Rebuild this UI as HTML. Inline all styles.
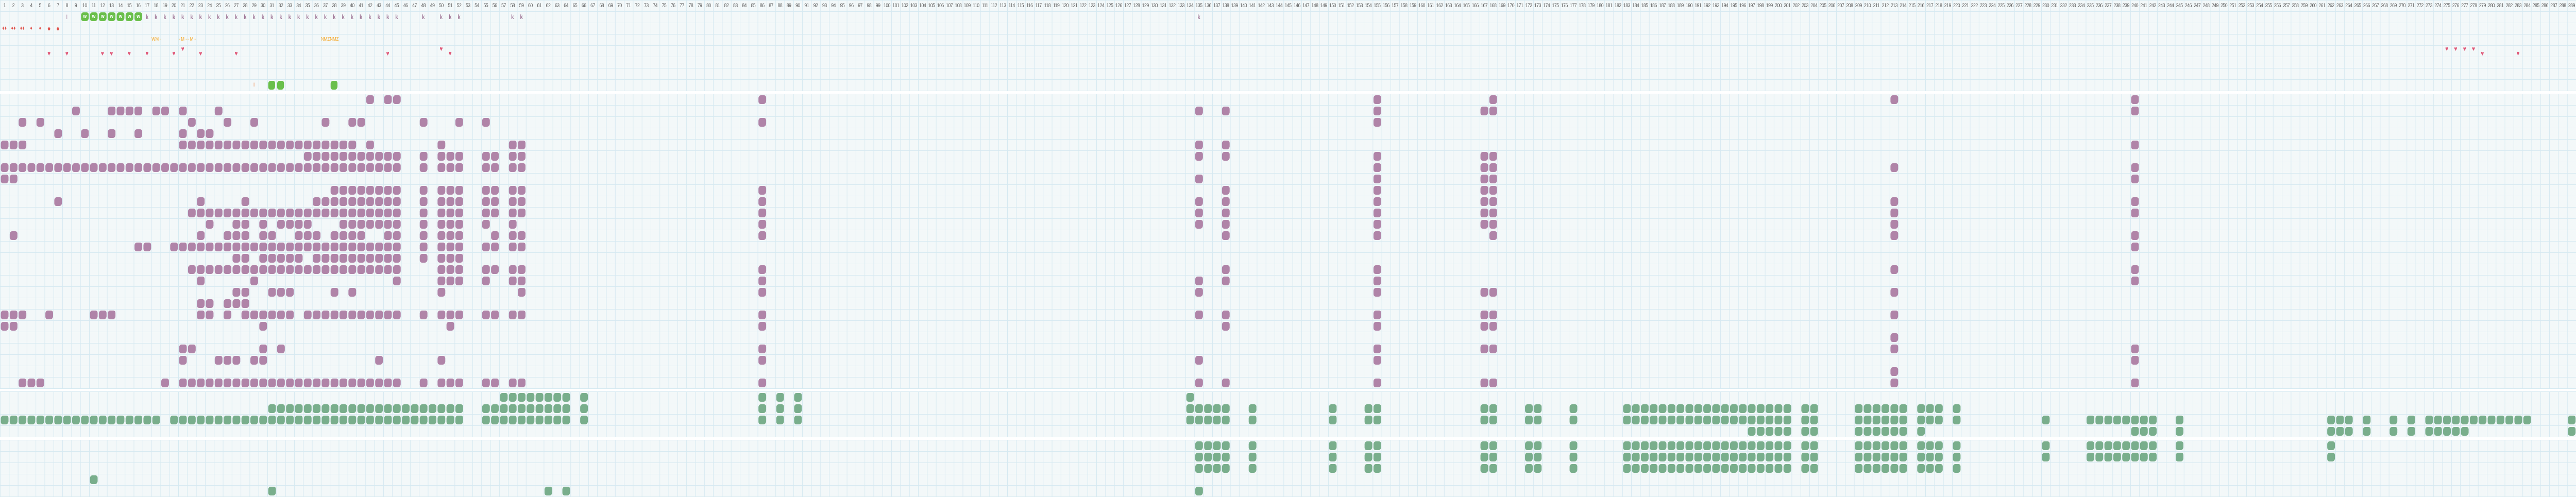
<!DOCTYPE html>
<html><head><meta charset="utf-8">
<style>
html{margin:0;padding:0;width:100%;height:100%;overflow:hidden;background:#fff;}
body{margin:0;padding:0;width:100%;height:100%;overflow:hidden;background:#fff;font-family:"Liberation Sans",sans-serif;}
#wrap{position:absolute;left:0;top:0;width:6358px;height:965px;overflow:hidden;transform-origin:0 0;}
.sec{position:absolute;left:0;width:6358px;background-color:#f3f8f9;
background-image:linear-gradient(to right,#d6e9f1 1px,transparent 1px),linear-gradient(to bottom,#d6e9f1 1px,transparent 1px);
background-size:22px 22px;border-bottom:1px solid #d6e9f1;box-sizing:border-box;}
#hdr{position:absolute;left:0;top:0;width:6358px;height:22px;overflow:hidden;white-space:nowrap;font-size:0;}
#hdr b{display:inline-block;width:22px;overflow:hidden;text-align:center;font-weight:normal;font-size:11px;line-height:22px;color:#555;letter-spacing:-0.6px;}
.b{position:absolute;width:19px;height:17px;border-radius:32% 26% 36% 28%;}
.p{background:#b084a8;}
.g{background:#79ae8c;}
.tg{background:#69bf4b;}
.t{position:absolute;text-align:center;width:22px;overflow:hidden;}
.k{color:#a07898;font-weight:bold;font-size:12px;line-height:22px;top:22px;}
.h{color:#e05a7a;font-size:13px;line-height:22px;}
.d{color:#e0554f;font-size:11px;line-height:22px;top:44px;}
.o{color:#f5a623;font-size:10px;line-height:22px;top:66px;white-space:nowrap;}
.w{color:#fff;font-weight:bold;font-size:11px;line-height:17px;text-align:center;}
</style></head><body><div id="wrap">
<div class="sec" style="top:0;height:177px"></div>
<div class="sec" style="top:182px;height:573px"></div>
<div class="sec" style="top:760px;height:89px"></div>
<div class="sec" style="top:854px;height:111px"></div>
<div id="hdr"><b>1</b><b>2</b><b>3</b><b>4</b><b>5</b><b>6</b><b>7</b><b>8</b><b>9</b><b>10</b><b>11</b><b>12</b><b>13</b><b>14</b><b>15</b><b>16</b><b>17</b><b>18</b><b>19</b><b>20</b><b>21</b><b>22</b><b>23</b><b>24</b><b>25</b><b>26</b><b>27</b><b>28</b><b>29</b><b>30</b><b>31</b><b>32</b><b>33</b><b>34</b><b>35</b><b>36</b><b>37</b><b>38</b><b>39</b><b>40</b><b>41</b><b>42</b><b>43</b><b>44</b><b>45</b><b>46</b><b>47</b><b>48</b><b>49</b><b>50</b><b>51</b><b>52</b><b>53</b><b>54</b><b>55</b><b>56</b><b>57</b><b>58</b><b>59</b><b>60</b><b>61</b><b>62</b><b>63</b><b>64</b><b>65</b><b>66</b><b>67</b><b>68</b><b>69</b><b>70</b><b>71</b><b>72</b><b>73</b><b>74</b><b>75</b><b>76</b><b>77</b><b>78</b><b>79</b><b>80</b><b>81</b><b>82</b><b>83</b><b>84</b><b>85</b><b>86</b><b>87</b><b>88</b><b>89</b><b>90</b><b>91</b><b>92</b><b>93</b><b>94</b><b>95</b><b>96</b><b>97</b><b>98</b><b>99</b><b>100</b><b>101</b><b>102</b><b>103</b><b>104</b><b>105</b><b>106</b><b>107</b><b>108</b><b>109</b><b>110</b><b>111</b><b>112</b><b>113</b><b>114</b><b>115</b><b>116</b><b>117</b><b>118</b><b>119</b><b>120</b><b>121</b><b>122</b><b>123</b><b>124</b><b>125</b><b>126</b><b>127</b><b>128</b><b>129</b><b>130</b><b>131</b><b>132</b><b>133</b><b>134</b><b>135</b><b>136</b><b>137</b><b>138</b><b>139</b><b>140</b><b>141</b><b>142</b><b>143</b><b>144</b><b>145</b><b>146</b><b>147</b><b>148</b><b>149</b><b>150</b><b>151</b><b>152</b><b>153</b><b>154</b><b>155</b><b>156</b><b>157</b><b>158</b><b>159</b><b>160</b><b>161</b><b>162</b><b>163</b><b>164</b><b>165</b><b>166</b><b>167</b><b>168</b><b>169</b><b>170</b><b>171</b><b>172</b><b>173</b><b>174</b><b>175</b><b>176</b><b>177</b><b>178</b><b>179</b><b>180</b><b>181</b><b>182</b><b>183</b><b>184</b><b>185</b><b>186</b><b>187</b><b>188</b><b>189</b><b>190</b><b>191</b><b>192</b><b>193</b><b>194</b><b>195</b><b>196</b><b>197</b><b>198</b><b>199</b><b>200</b><b>201</b><b>202</b><b>203</b><b>204</b><b>205</b><b>206</b><b>207</b><b>208</b><b>209</b><b>210</b><b>211</b><b>212</b><b>213</b><b>214</b><b>215</b><b>216</b><b>217</b><b>218</b><b>219</b><b>220</b><b>221</b><b>222</b><b>223</b><b>224</b><b>225</b><b>226</b><b>227</b><b>228</b><b>229</b><b>230</b><b>231</b><b>232</b><b>233</b><b>234</b><b>235</b><b>236</b><b>237</b><b>238</b><b>239</b><b>240</b><b>241</b><b>242</b><b>243</b><b>244</b><b>245</b><b>246</b><b>247</b><b>248</b><b>249</b><b>250</b><b>251</b><b>252</b><b>253</b><b>254</b><b>255</b><b>256</b><b>257</b><b>258</b><b>259</b><b>260</b><b>261</b><b>262</b><b>263</b><b>264</b><b>265</b><b>266</b><b>267</b><b>268</b><b>269</b><b>270</b><b>271</b><b>272</b><b>273</b><b>274</b><b>275</b><b>276</b><b>277</b><b>278</b><b>279</b><b>280</b><b>281</b><b>282</b><b>283</b><b>284</b><b>285</b><b>286</b><b>287</b><b>288</b><b>289</b></div>

<div class="t k" style="left:154px;font-weight:normal">l</div>
<div class="b tg w" style="left:200px;top:24px">w</div>
<div class="b tg w" style="left:222px;top:24px">w</div>
<div class="b tg w" style="left:244px;top:24px">w</div>
<div class="b tg w" style="left:266px;top:24px">w</div>
<div class="b tg w" style="left:288px;top:24px">w</div>
<div class="b tg w" style="left:310px;top:24px">w</div>
<div class="b tg w" style="left:332px;top:24px">w</div>
<div class="t k" style="left:352px">k</div><div class="t k" style="left:374px">k</div><div class="t k" style="left:396px">k</div><div class="t k" style="left:418px">k</div><div class="t k" style="left:440px">k</div><div class="t k" style="left:462px">k</div><div class="t k" style="left:484px">k</div><div class="t k" style="left:506px">k</div><div class="t k" style="left:528px">k</div><div class="t k" style="left:550px">k</div><div class="t k" style="left:572px">k</div><div class="t k" style="left:594px">k</div><div class="t k" style="left:616px">k</div><div class="t k" style="left:638px">k</div><div class="t k" style="left:660px">k</div><div class="t k" style="left:682px">k</div><div class="t k" style="left:704px">k</div><div class="t k" style="left:726px">k</div><div class="t k" style="left:748px">k</div><div class="t k" style="left:770px">k</div><div class="t k" style="left:792px">k</div><div class="t k" style="left:814px">k</div><div class="t k" style="left:836px">k</div><div class="t k" style="left:858px">k</div><div class="t k" style="left:880px">k</div><div class="t k" style="left:902px">k</div><div class="t k" style="left:924px">k</div><div class="t k" style="left:946px">k</div><div class="t k" style="left:968px">k</div>
<div class="t k" style="left:1034px">k</div><div class="t k" style="left:1078px">k</div><div class="t k" style="left:1100px">k</div><div class="t k" style="left:1122px">k</div><div class="t k" style="left:1254px">k</div><div class="t k" style="left:1276px">k</div>
<div class="t k" style="left:2948px">k</div>
<div class="t d" style="left:0">♦♦</div><div class="t d" style="left:22px">♦♦</div><div class="t d" style="left:44px">♦♦</div><div class="t d" style="left:66px">♦</div><div class="t d" style="left:88px">♦</div><div class="t d" style="left:110px;font-size:14px">●</div><div class="t d" style="left:132px;font-size:14px">●</div>
<div class="t o" style="left:374px">WM -</div><div class="t o" style="left:440px">- M -</div><div class="t o" style="left:462px">- M -</div>
<div class="t o" style="left:792px">NMZ</div><div class="t o" style="left:814px">NMZ</div>
<div class="t h" style="left:110px;top:93px">♥</div><div class="t h" style="left:154px;top:93px">♥</div><div class="t h" style="left:242px;top:93px">♥</div><div class="t h" style="left:264px;top:93px">♥</div><div class="t h" style="left:308px;top:93px">♥</div><div class="t h" style="left:352px;top:93px">♥</div><div class="t h" style="left:418px;top:93px">♥</div><div class="t h" style="left:440px;top:84px">♥</div><div class="t h" style="left:484px;top:93px">♥</div><div class="t h" style="left:572px;top:93px">♥</div><div class="t h" style="left:946px;top:93px">♥</div><div class="t h" style="left:1078px;top:84px">♥</div><div class="t h" style="left:1100px;top:93px">♥</div>
<div class="t h" style="left:6028px;top:84px">♥</div><div class="t h" style="left:6050px;top:84px">♥</div><div class="t h" style="left:6072px;top:84px">♥</div><div class="t h" style="left:6094px;top:84px">♥</div><div class="t h" style="left:6116px;top:93px">♥</div><div class="t h" style="left:6204px;top:93px">♥</div>
<div class="t" style="left:616px;top:154px;color:#f08040;font-size:11px;line-height:22px">I</div>
<div class="b tg" style="left:662px;top:157px;width:17px"></div><div class="b tg" style="left:684px;top:157px;width:17px"></div><div class="b tg" style="left:816px;top:157px;width:17px"></div>

<div id="blobs"></div>
</div>
<script>
function parse(s){var o=[];s.split(',').forEach(function(t){t=t.trim();if(!t)return;var a=t.split('-');var x=+a[0],y=a.length>1?+a[1]:x;for(var i=x;i<=y;i++)o.push(i);});return o;}
var P=["41,43,44,85,154,167,212,239",
"8,12-15,17,18,20,24,134,137,154,166,167,239",
"2,4,21,25,28,36,39,40,47,51,54,85,154",
"6,9,12,15,20,22,23",
"0-2,20-39,41,49,57,58,134,137,239",
"34-44,47,49-51,54,55,57,58,134,137,154,166,167",
"0-44,47,49-51,54,55,57,58,154,166,167,212,239",
"0,1,134,154,166,167,239",
"37-44,47,49-51,54,55,57,58,85,137,154,166,167",
"6,22,27,35-44,47,49-51,54,55,57,58,85,134,137,154,166,167,212,239",
"21-44,47,49-51,54,55,57,58,85,134,137,154,166,167,212,239",
"23,26,27,29,31-34,38-44,47,49-51,54,57,85,134,137,154,166,167,212",
"1,22,25-27,29,30,33-35,37-40,43,44,47,49-51,55,57,58,85,137,154,167,212,239",
"15,16,19-44,47,49-51,54,55,57,58,239",
"26,27,29-33,35-44,47,49-51",
"21-44,49-51,54,55,57,58,85,137,154,212,239",
"22,28,44,49-51,54,57,58,85,134,137,154,239",
"26,27,30-32,37,39,49,58,85,134,154,166,167,212",
"22,23,25-27",
"0-2,5,10-12,22,23,25,27-32,34-44,47,49-51,54,55,57,58,85,134,137,154,166,167,212",
"0,1,29,50,85,137,154,166,167",
"212",
"20,21,29,31,85,154,166,167,212,239",
"20,24-26,28,29,42,49,85,134,154,239",
"212",
"2-4,18,20-44,47,49-51,54,55,57,58,85,134,137,154,166,167,212,239"];
var Gs="133-137,140,149,153,154,166,167,171,172,176,182-200,202,203,208-213,215-217,219";
var G=["56-63,65,85,87,89,133",
"30-51,54-63,65,85,87,89,"+Gs,
"0-17,19-51,54-63,65,85,87,89,"+Gs+",229,234-241,244,261-263,265,268,270,272-283,288",
"196-200,202,203,208-213,215,239-241,244,261-263,265,268,270,272-276,288"];
var Bs="134-137,140,149,153,154,166,167,171,172,176,182-200,202,203,208-213,215-217,219";
var B=[Bs+",229,234-241,244,261",Bs+",229,234-241,244,261",Bs,"10","30,61,63,134"];
var h=[];
function add(rows,top,cls){rows.forEach(function(s,r){parse(s).forEach(function(c){var l=c*22+2;if(l+19>6357)l=6357-19;h.push('<div class="b '+cls+'" style="left:'+l+'px;top:'+(top+r*22+3)+'px"></div>');});});}
add(P,182,'p');add(G,760,'g');add(B,854,'g');
document.getElementById('blobs').innerHTML=h.join('');
function fit(){var w=document.documentElement.clientWidth||window.innerWidth||6358;var hh=document.documentElement.clientHeight||window.innerHeight||965;var sx=w/6358,sy=hh/965;if(!(sx>0))sx=1;if(!(sy>0))sy=1;document.getElementById('wrap').style.transform='scale('+sx+','+sy+')';}
fit();window.addEventListener('resize',fit);
</script>
</body></html>
